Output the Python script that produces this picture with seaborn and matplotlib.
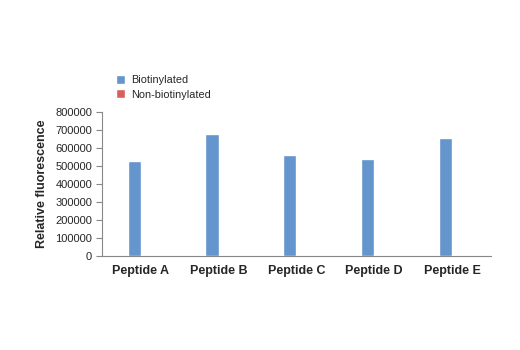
import matplotlib
matplotlib.use('Agg')
import matplotlib.pyplot as plt
import seaborn as sns
import pandas as pd

# peptides and their fluorescence readings
peptides = ['Peptide A', 'Peptide B', 'Peptide C', 'Peptide D', 'Peptide E']
biotinylated = [528000, 678000, 563000, 541000, 656000]
non_biotinylated = [9000, 9000, 9000, 9000, 9000]
series = ['Biotinylated', 'Non-biotinylated']

# long form table for seaborn
df = pd.DataFrame({
    'peptide': peptides * 2,
    'value': biotinylated + non_biotinylated,
    'group': [series[0]] * 5 + [series[1]] * 5,
})

sns.set_style('white')
plt.rcParams['font.family'] = ['Liberation Sans', 'DejaVu Sans']

fig = plt.figure(figsize=(5.2, 3.5), dpi=100)
ax = fig.add_axes([0.196, 0.268, 0.748, 0.412])

sns.barplot(data=df, x='peptide', y='value', hue='group', ax=ax,
            palette=['#6495cd', '#d9605a'], width=0.34, saturation=1,
            errorbar=None, legend=True)

ax.set_ylim(0, 800000)
ax.set_yticks(range(0, 800001, 100000))
ax.set_yticklabels([str(v) for v in range(0, 800001, 100000)], fontsize=8)
ax.set_xlim(-0.5, 4.5)
ax.set_xlabel('')
ax.set_ylabel('Relative fluorescence', fontsize=9, fontweight='bold', labelpad=5)
ax.tick_params(axis='x', length=0, labelsize=9, pad=6)
ax.tick_params(axis='y', length=4, width=0.8, color='#888888', left=True, pad=3)
for lbl in ax.get_xticklabels():
    lbl.set_fontweight('bold')

sns.despine(ax=ax)
ax.spines['left'].set_color('#888888')
ax.spines['bottom'].set_color('#888888')
ax.spines['left'].set_linewidth(0.8)
ax.spines['bottom'].set_linewidth(0.8)

handles, labels = ax.get_legend_handles_labels()
ax.get_legend().remove()
fig.legend(handles, labels, loc='upper left', bbox_to_anchor=(0.212, 0.802),
           frameon=False, fontsize=7.8, handlelength=0.9, handleheight=0.9,
           handletextpad=0.5, labelspacing=0.4, borderpad=0)

fig.savefig('out.png', dpi=100)
